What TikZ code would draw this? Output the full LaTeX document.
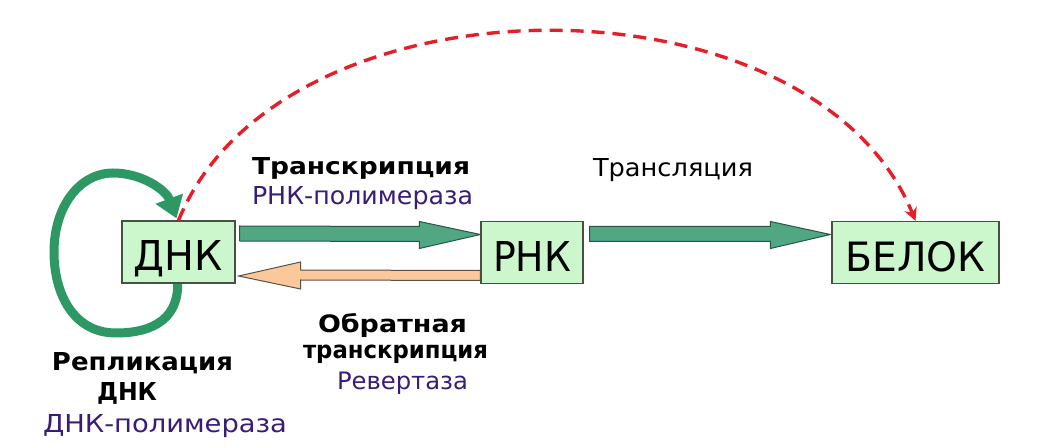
\documentclass[tikz,border=0pt]{standalone}
\usepackage{fontspec}
\setmainfont{DejaVu Sans}
\usepackage{graphicx}
\usetikzlibrary{calc,arrows.meta,backgrounds}
\definecolor{boxfill}{RGB}{204,246,204}
\definecolor{boxline}{RGB}{70,80,70}
\definecolor{garrowfill}{RGB}{80,167,130}
\definecolor{garrowline}{RGB}{40,85,70}
\definecolor{loopgreen}{RGB}{46,152,100}
\definecolor{peach}{RGB}{251,200,155}
\definecolor{peachline}{RGB}{90,80,70}
\definecolor{purp}{RGB}{58,28,120}
\definecolor{dashred}{RGB}{230,30,40}
\begin{document}
\begin{tikzpicture}[x=1pt,y=-1pt,
  box/.style={draw=boxline, fill=boxfill, line width=1.2pt, rectangle, inner sep=0pt,
    minimum height=62pt, text height=38pt, text depth=0pt},
  lbl/.style={anchor=base west, inner sep=0pt, outer sep=0pt},
  greenblock/.style={fill=garrowfill, draw=garrowline, line width=1pt, line join=miter},
  peachblock/.style={fill=peach, draw=peachline, line width=1pt, line join=miter},
  loopline/.style={draw=loopgreen, line width=9pt, -{Triangle[length=21pt,width=28pt]}},
  redline/.style={draw=dashred, line width=3.4pt, dash pattern=on 13pt off 8pt,
    -{Stealth[length=13pt,width=13pt]}}]
\useasboundingbox (0,0) rectangle (1050,446);

% nodes
\node[box, minimum width=113pt] (dnk) at (178.5,252) {\resizebox{89pt}{30pt}{ДНК}};
\node[box, minimum width=102pt] (rnk) at (532,252.5) {\resizebox{78pt}{30pt}{РНК}};
\node[box, minimum width=167pt] (belok) at (915.5,252.5) {\resizebox{140pt}{30pt}{БЕЛОК}};

\begin{scope}[on background layer]
\fill[white] (0,0) rectangle (1050,446);
% replication loop (behind the box)
\draw[loopline] ($(dnk.south)+(-1,-4)$) .. controls (180,317) and (155,333) .. (116,333)
  .. controls (73,333) and (54,293) .. (54,252)
  .. controls (54,206) and (80,173) .. (113,173)
  .. controls (142,173) and (166,190) .. ($(dnk.north)+(-2,-2)$);
% transcription arrow
\filldraw[greenblock] ($(dnk.east)+(4,-26)$) -- ($(rnk.west)+(-61,-26)$) -- ($(rnk.west)+(-61,-31)$)
  -- ($(rnk.west)+(0,-18)$) -- ($(rnk.west)+(-61,-4)$) -- ($(rnk.west)+(-61,-11)$)
  -- ($(dnk.east)+(4,-11)$) -- cycle;
% translation arrow
\filldraw[greenblock] ($(rnk.east)+(6,-26)$) -- ($(belok.west)+(-61,-26)$) -- ($(belok.west)+(-61,-31)$)
  -- ($(belok.west)+(-1,-18)$) -- ($(belok.west)+(-61,-4)$) -- ($(belok.west)+(-61,-11)$)
  -- ($(rnk.east)+(6,-11)$) -- cycle;
% reverse transcription arrow
\filldraw[peachblock] ($(rnk.west)+(0,18)$) -- ($(dnk.east)+(65,18)$) -- ($(dnk.east)+(65,10)$)
  -- ($(dnk.east)+(3,24)$) -- ($(dnk.east)+(65,37)$) -- ($(dnk.east)+(65,28)$)
  -- ($(rnk.west)+(0,28)$) -- cycle;
\end{scope}

% red dashed arc
\draw[redline] (dnk.north) .. controls (281.5,-32) and (812.5,-32) .. (belok.north);

% labels
\node[lbl] (t1) at (252,175) {\resizebox{218pt}{17pt}{\bfseries Транскрипция}};
\node[lbl, text=purp] (t2) at (252,205) {\resizebox{221pt}{18pt}{РНК-полимераза}};
\node[lbl] (t3) at (593,177) {\resizebox{160pt}{18pt}{Трансляция}};
\node[lbl] (t4) at (318,333) {\resizebox{149pt}{19pt}{\bfseries Обратная}};
\node[lbl] (t5) at (303,359) {\resizebox{185pt}{13.5pt}{\bfseries транскрипция}};
\node[lbl, text=purp] (t6) at (337,389) {\resizebox{131pt}{17.5pt}{Ревертаза}};
\node[lbl] (t7) at (52,371) {\resizebox{181pt}{18pt}{\bfseries Репликация}};
\node[lbl] (t8) at (97,401) {\resizebox{60pt}{18pt}{\bfseries ДНК}};
\node[lbl, text=purp] (t9) at (43,432) {\resizebox{244pt}{18pt}{ДНК-полимераза}};
\end{tikzpicture}
\end{document}
